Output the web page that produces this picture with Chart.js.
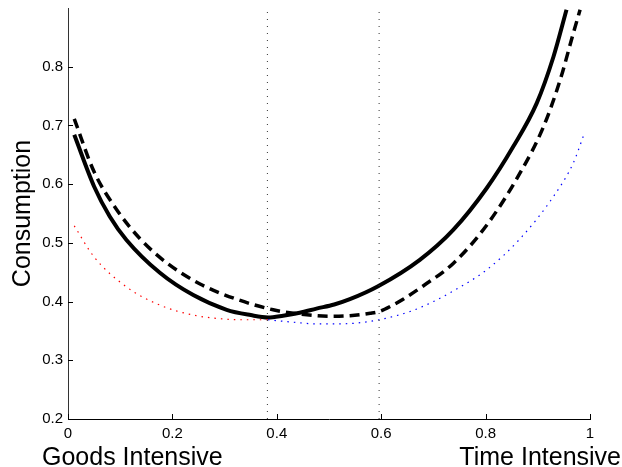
<!DOCTYPE html>
<html>
<head>
<meta charset="utf-8">
<script src="https://cdn.jsdelivr.net/npm/chart.js@4/dist/chart.umd.min.js"></script>
<style>
  html, body { margin: 0; padding: 0; background: #fff; }
  #wrap { width: 622px; height: 467px; position: relative; }
</style>
</head>
<body>
<div id="wrap"><canvas id="c" width="622" height="467"></canvas></div>
<script>
// ---- data ----
const xTicks = [0, 0.2, 0.4, 0.6, 0.8, 1];
const yTicks = [0.2, 0.3, 0.4, 0.5, 0.6, 0.7, 0.8];

const solidX = [0.012, 0.05, 0.08, 0.112, 0.176, 0.240, 0.304, 0.350, 0.383, 0.412, 0.444, 0.476, 0.510, 0.540, 0.594, 0.674, 0.738, 0.802, 0.853, 0.898, 0.930, 0.955];
const solidY = [0.684, 0.596, 0.545, 0.505, 0.449, 0.411, 0.386, 0.377, 0.373, 0.376, 0.381, 0.388, 0.395, 0.404, 0.426, 0.471, 0.522, 0.593, 0.664, 0.738, 0.817, 0.897];

const dashX = [0.012, 0.05, 0.093, 0.138, 0.189, 0.253, 0.323, 0.393, 0.432, 0.502, 0.540, 0.579, 0.596, 0.620, 0.642, 0.681, 0.738, 0.802, 0.866, 0.911, 0.943, 0.968, 0.981];
const dashY = [0.711, 0.621, 0.557, 0.507, 0.466, 0.430, 0.404, 0.386, 0.380, 0.375, 0.376, 0.380, 0.383, 0.393, 0.404, 0.427, 0.465, 0.530, 0.619, 0.698, 0.778, 0.857, 0.897];

const redX = [0.012, 0.05, 0.112, 0.176, 0.240, 0.304, 0.345, 0.383];
const redY = [0.529, 0.476, 0.425, 0.394, 0.377, 0.370, 0.369, 0.369];

const blueX = [0.383, 0.43, 0.476, 0.52, 0.56, 0.596, 0.655, 0.70, 0.738, 0.802, 0.866, 0.930, 0.968, 0.987];
const blueY = [0.369, 0.365, 0.362, 0.362, 0.364, 0.369, 0.383, 0.400, 0.418, 0.454, 0.507, 0.579, 0.636, 0.681];

const vLineX = [0.382, 0.596];
const yRange = [0.2, 0.9];
const xRange = [0, 1];

const yTitle = 'Consumption';
const xLeftTitle = 'Goods Intensive';
const xRightTitle = 'Time Intensive';

// ---- build ----
const pts = (xs, ys) => xs.map((x, i) => ({ x: x, y: ys[i] }));
const FONT = "'Liberation Sans', Arial, Helvetica, sans-serif";

const datasets = [];
vLineX.forEach(v => {
  datasets.push({
    data: [{ x: v, y: yRange[0] }, { x: v, y: yRange[1] }],
    borderColor: '#333', borderWidth: 1, borderDash: [1, 6],
    pointRadius: 0, fill: false, tension: 0
  });
});
datasets.push({ data: pts(redX, redY), borderColor: 'red', borderWidth: 1.2, borderDash: [1.5, 5], pointRadius: 0, cubicInterpolationMode: 'monotone', fill: false });
datasets.push({ data: pts(blueX, blueY), borderColor: 'blue', borderWidth: 1.2, borderDash: [1.5, 5], pointRadius: 0, cubicInterpolationMode: 'monotone', fill: false });
datasets.push({ data: pts(dashX, dashY), borderColor: '#000', borderWidth: 3.5, borderDash: [10, 6], pointRadius: 0, cubicInterpolationMode: 'monotone', fill: false });
datasets.push({ data: pts(solidX, solidY), borderColor: '#000', borderWidth: 4, pointRadius: 0, cubicInterpolationMode: 'monotone', fill: false });

const decor = {
  id: 'decor',
  afterDraw(chart) {
    const ctx = chart.ctx;
    const xs = chart.scales.x, ys = chart.scales.y;
    const a = chart.chartArea;
    ctx.save();
    ctx.strokeStyle = '#000';
    ctx.lineWidth = 1;
    ctx.beginPath();
    xTicks.forEach(v => {
      const p = Math.round(xs.getPixelForValue(v)) + 0.5;
      ctx.moveTo(p, a.bottom); ctx.lineTo(p, a.bottom - 5);
    });
    yTicks.forEach(v => {
      const p = Math.round(ys.getPixelForValue(v)) + 0.5;
      ctx.moveTo(a.left, p); ctx.lineTo(a.left + 5, p);
    });
    ctx.stroke();

    ctx.fillStyle = '#000';
    ctx.font = '25px ' + FONT;
    ctx.textBaseline = 'alphabetic';
    ctx.textAlign = 'left';
    ctx.fillText(xLeftTitle, 42, 465);
    ctx.textAlign = 'right';
    ctx.fillText(xRightTitle, 621, 465);

    ctx.translate(30, (a.top + a.bottom) / 2);
    ctx.rotate(-Math.PI / 2);
    ctx.textAlign = 'center';
    ctx.fillText(yTitle, 0, 0);
    ctx.restore();
  }
};

new Chart(document.getElementById('c'), {
  type: 'line',
  data: { datasets: datasets },
  options: {
    responsive: false,
    animation: false,
    devicePixelRatio: 1,
    layout: { padding: { top: 8, right: 32, left: 0, bottom: 0 } },
    plugins: { legend: { display: false }, tooltip: { enabled: false } },
    scales: {
      x: {
        type: 'linear', min: xRange[0], max: xRange[1],
        afterFit: s => { s.height = 48; s.paddingLeft = 0; s.paddingRight = 0; },
        afterBuildTicks: s => { s.ticks = xTicks.map(v => ({ value: v })); },
        grid: { display: false, drawTicks: false },
        border: { display: true, color: '#000', width: 1 },
        ticks: { color: '#000', font: { family: FONT, size: 15 }, padding: 6, maxRotation: 0,
                 callback: v => String(Math.round(v * 10) / 10) }
      },
      y: {
        type: 'linear', min: yRange[0], max: yRange[1],
        afterFit: s => { s.width = 68; s.paddingTop = 0; s.paddingBottom = 0; },
        afterBuildTicks: s => { s.ticks = yTicks.map(v => ({ value: v })); },
        grid: { display: false, drawTicks: false },
        border: { display: true, color: '#333', width: 1 },
        ticks: { color: '#000', font: { family: FONT, size: 15 }, padding: 5,
                 callback: v => (Math.round(v * 10) / 10).toFixed(1) }
      }
    }
  },
  plugins: [decor]
});
</script>
</body>
</html>
